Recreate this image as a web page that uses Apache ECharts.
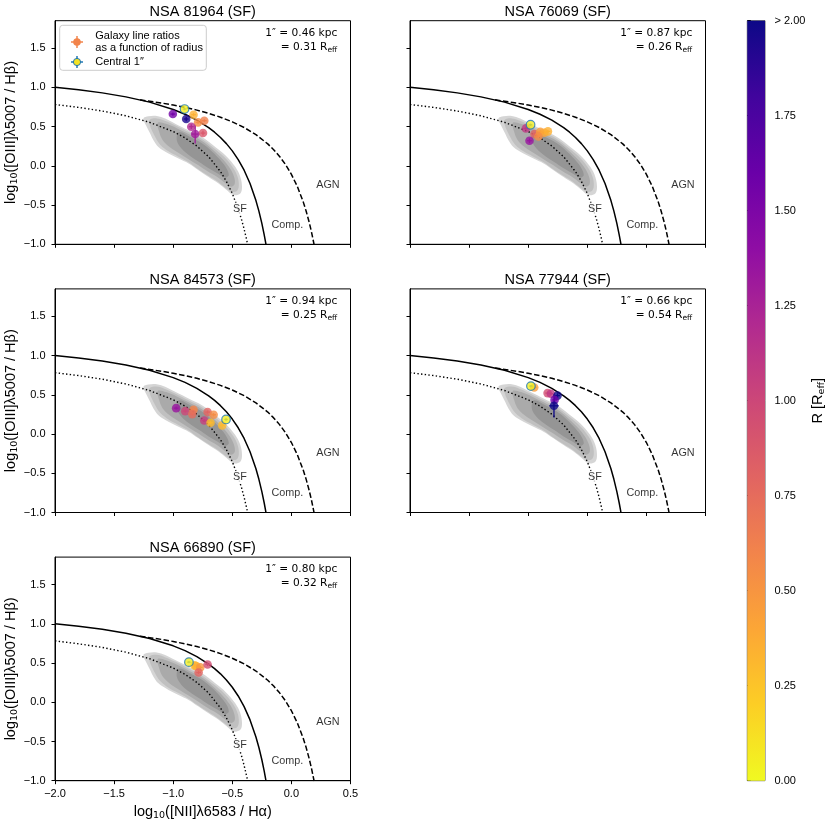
<!DOCTYPE html>
<html>
<head>
<meta charset="utf-8">
<script src="https://cdn.jsdelivr.net/npm/echarts@6.0.0/dist/echarts.min.js"></script>
<style>
  html, body { margin: 0; padding: 0; background: #fff; }
  #main { width: 830px; height: 824px; }
</style>
</head>
<body>
<div id="main"></div>
<script>
// ---- data ----
const titles = ['NSA 81964 (SF)', 'NSA 76069 (SF)', 'NSA 84573 (SF)', 'NSA 77944 (SF)', 'NSA 66890 (SF)'];
const kpcPerArcsec = ['0.46', '0.87', '0.94', '0.66', '0.80'];
const reffPerArcsec = ['0.31', '0.26', '0.25', '0.54', '0.32'];

// [log NII/Ha, log OIII/Hb, R / Reff, x error, y error]
const nsa81964 = [
  [-1.003, 0.660, 1.55, 0.02, 0.02],
  [-0.828, 0.652, 0.35, 0.02, 0.02],
  [-0.890, 0.597, 1.95, 0.02, 0.03],
  [-0.790, 0.554, 0.55, 0.02, 0.02],
  [-0.737, 0.575, 0.62, 0.02, 0.02],
  [-0.847, 0.499, 1.20, 0.02, 0.03],
  [-0.748, 0.418, 0.88, 0.02, 0.03],
  [-0.814, 0.405, 1.30, 0.03, 0.12]
];
const nsa76069 = [
  [-1.020, 0.477, 1.10, 0.02, 0.02],
  [-0.947, 0.405, 0.80, 0.02, 0.02],
  [-0.898, 0.435, 0.45, 0.02, 0.02],
  [-0.864, 0.422, 0.40, 0.02, 0.02],
  [-0.833, 0.439, 0.35, 0.02, 0.02],
  [-0.913, 0.375, 0.55, 0.02, 0.02],
  [-0.989, 0.320, 1.35, 0.02, 0.03]
];
const nsa84573 = [
  [-0.975, 0.330, 1.35, 0.02, 0.02],
  [-0.898, 0.292, 1.00, 0.02, 0.02],
  [-0.828, 0.310, 0.60, 0.02, 0.02],
  [-0.839, 0.254, 0.75, 0.02, 0.02],
  [-0.709, 0.280, 0.80, 0.02, 0.02],
  [-0.658, 0.246, 0.55, 0.02, 0.02],
  [-0.737, 0.173, 1.05, 0.02, 0.02],
  [-0.684, 0.144, 0.30, 0.02, 0.02],
  [-0.585, 0.110, 0.30, 0.02, 0.02]
];
const nsa77944 = [
  [-0.949, 0.594, 0.45, 0.02, 0.02],
  [-0.836, 0.522, 0.95, 0.02, 0.02],
  [-0.808, 0.514, 1.10, 0.02, 0.02],
  [-0.752, 0.490, 2.00, 0.02, 0.03],
  [-0.777, 0.435, 1.60, 0.02, 0.03],
  [-0.782, 0.360, 2.00, 0.04, 0.15]
];
const nsa66890 = [
  [-0.820, 0.470, 0.30, 0.02, 0.02],
  [-0.805, 0.460, 0.35, 0.02, 0.02],
  [-0.771, 0.444, 0.50, 0.02, 0.02],
  [-0.785, 0.380, 0.80, 0.02, 0.02],
  [-0.709, 0.482, 0.95, 0.02, 0.02]
];
// central 1" aperture, one per panel
const central1 = [
  [-0.904, 0.724, 0.05, 0.015, 0.015],
  [-0.980, 0.524, 0.05, 0.015, 0.015],
  [-0.553, 0.186, 0.05, 0.015, 0.015],
  [-0.977, 0.611, 0.05, 0.015, 0.015],
  [-0.867, 0.511, 0.05, 0.015, 0.015]
];

// demarcation lines
const kauffmannLine = [[-2.0, 1.002], [-1.8, 0.970], [-1.6, 0.930], [-1.4, 0.879], [-1.2, 0.812], [-1.0, 0.719],
  [-0.9, 0.658], [-0.8, 0.582], [-0.7, 0.487], [-0.65, 0.429], [-0.6, 0.362], [-0.55, 0.283], [-0.5, 0.191],
  [-0.45, 0.080], [-0.4, -0.056], [-0.35, -0.225], [-0.3, -0.443], [-0.275, -0.577], [-0.25, -0.733],
  [-0.23, -0.879], [-0.215, -1.002]];
const kewleyLine = [[-1.28, 0.841], [-1.1, 0.801], [-1.0, 0.775], [-0.9, 0.745], [-0.8, 0.710], [-0.7, 0.669],
  [-0.6, 0.620], [-0.5, 0.561], [-0.4, 0.489], [-0.3, 0.398], [-0.2, 0.280], [-0.15, 0.206], [-0.1, 0.120],
  [-0.05, 0.017], [0.0, -0.108], [0.05, -0.262], [0.1, -0.459], [0.125, -0.578], [0.15, -0.716],
  [0.17, -0.843], [0.192, -1.004]];
const sfLine = [[-2.0, 0.782], [-1.8, 0.745], [-1.6, 0.699], [-1.4, 0.638], [-1.2, 0.555], [-1.0, 0.437],
  [-0.9, 0.356], [-0.8, 0.253], [-0.7, 0.116], [-0.6, -0.073], [-0.55, -0.198], [-0.5, -0.352],
  [-0.45, -0.549], [-0.42, -0.694], [-0.4, -0.806], [-0.38, -0.933], [-0.37, -1.003]];

const regionNames = ['SF', 'Comp.', 'AGN'];
const regionX = [-0.435, -0.034, 0.309];
const regionY = [-0.551, -0.755, -0.246];

// SDSS density contours, outer to inner
const sdssLevel1 = [[-1.252, 0.602], [-1.209, 0.631], [-1.138, 0.635], [-1.068, 0.602], [-0.983, 0.538],
  [-0.870, 0.453], [-0.757, 0.368], [-0.644, 0.241], [-0.559, 0.135], [-0.475, -0.013], [-0.432, -0.141],
  [-0.418, -0.268], [-0.432, -0.352], [-0.489, -0.373], [-0.545, -0.310], [-0.616, -0.224], [-0.701, -0.141],
  [-0.786, -0.055], [-0.870, 0.030], [-0.955, 0.093], [-1.040, 0.157], [-1.125, 0.241], [-1.167, 0.326],
  [-1.195, 0.411], [-1.223, 0.495]];
const sdssLevel2 = [[-1.20, 0.585], [-1.14, 0.605], [-1.07, 0.575], [-0.98, 0.515], [-0.87, 0.430],
  [-0.76, 0.345], [-0.655, 0.225], [-0.57, 0.115], [-0.495, -0.020], [-0.455, -0.140], [-0.445, -0.260],
  [-0.465, -0.325], [-0.51, -0.325], [-0.57, -0.265], [-0.64, -0.185], [-0.72, -0.110], [-0.80, -0.030],
  [-0.88, 0.055], [-0.96, 0.120], [-1.04, 0.185], [-1.11, 0.270], [-1.15, 0.360], [-1.18, 0.450], [-1.20, 0.530]];
const sdssLevel3 = [[-1.13, 0.550], [-1.06, 0.535], [-0.97, 0.480], [-0.87, 0.405], [-0.76, 0.320],
  [-0.665, 0.205], [-0.585, 0.090], [-0.52, -0.030], [-0.485, -0.140], [-0.48, -0.230], [-0.51, -0.265],
  [-0.56, -0.220], [-0.63, -0.140], [-0.71, -0.070], [-0.79, 0.010], [-0.87, 0.085], [-0.95, 0.160],
  [-1.03, 0.240], [-1.09, 0.330], [-1.12, 0.440]];
const sdssLevel4 = [[-0.95, 0.430], [-0.86, 0.370], [-0.76, 0.290], [-0.67, 0.180], [-0.60, 0.070],
  [-0.55, -0.030], [-0.53, -0.120], [-0.56, -0.150], [-0.62, -0.100], [-0.70, -0.030], [-0.78, 0.050],
  [-0.86, 0.130], [-0.93, 0.220], [-0.97, 0.330]];

const xTicks = [-2, -1.5, -1, -0.5, 0, 0.5];
const yTicks = [-1, -0.5, 0, 0.5, 1, 1.5];
const cbarTicks = [0, 0.25, 0.5, 0.75, 1, 1.25, 1.5, 1.75, 2];

// ---- look ----
const FONT = 'Liberation Sans';
const MATH = 'DejaVu Sans';
const plasmaR = ['#f0f921', '#fcce25', '#fca636', '#f2844b', '#e16462', '#cc4778',
  '#b12a90', '#8f0da4', '#6a00a8', '#41049d', '#0d0887'];
const contourColors = ['#d5d5d5', '#c0c0c0', '#aaaaaa', '#959595'];
const sdssLevels = [sdssLevel1, sdssLevel2, sdssLevel3, sdssLevel4];
const panelData = [nsa81964, nsa76069, nsa84573, nsa77944, nsa66890];

const colLeft = [55, 410];
const rowTop = [20.7, 288.9, 557.1];
const panelW = 295.5, panelH = 223.6;
const panelPos = [[0, 0], [0, 1], [1, 0], [1, 1], [2, 0]];

const subRich = {
  sub: { fontSize: 9.5, fontFamily: MATH, color: '#000', verticalAlign: 'bottom', lineHeight: 10 }
};

function fmt1(v) {
  return (v < 0 ? '\u2212' : '') + Math.abs(v).toFixed(1);
}

function renderContour(params, api) {
  const lvl = api.value(0);
  const pts = sdssLevels[lvl].map(function (p) { return api.coord(p); });
  return {
    type: 'polygon',
    shape: { points: pts, smooth: 0.35 },
    style: { fill: contourColors[lvl] }
  };
}

function errorBars(color) {
  return function (params, api) {
    const x = api.value(0), y = api.value(1), xe = api.value(3), ye = api.value(4);
    const c = api.coord([x, y]);
    const l = api.coord([x - xe, y]), r = api.coord([x + xe, y]);
    const t = api.coord([x, y + ye]), b = api.coord([x, y - ye]);
    const style = { stroke: color || api.visual('color'), lineWidth: 1.3 };
    return {
      type: 'group',
      children: [
        { type: 'line', shape: { x1: l[0], y1: c[1], x2: r[0], y2: c[1] }, style: style },
        { type: 'line', shape: { x1: c[0], y1: t[1], x2: c[0], y2: b[1] }, style: style }
      ]
    };
  };
}

const grids = [], xAxes = [], yAxes = [], series = [], graphics = [], mappedSeries = [];

panelPos.forEach(function (rc, i) {
  const left = colLeft[rc[1]], top = rowTop[rc[0]];
  grids.push({
    left: left, top: top, width: panelW, height: panelH,
    show: true, borderColor: '#000', borderWidth: 1, outerBoundsMode: 'none'
  });
  const bottomPanel = i === 4;
  xAxes.push({
    gridIndex: i, type: 'value', min: -2, max: 0.5, interval: 0.5,
    axisLine: { show: true, onZero: false, lineStyle: { color: '#000', width: 1 } },
    axisTick: { show: true, inside: false, length: 3.5, lineStyle: { color: '#000' }, customValues: xTicks },
    axisLabel: {
      show: bottomPanel, customValues: xTicks, formatter: fmt1, margin: 8,
      fontSize: 11, fontFamily: FONT, color: '#000'
    },
    splitLine: { show: false },
    name: bottomPanel ? 'log{sub|10}([NII]\u03bb6583 / H\u03b1)' : '',
    nameLocation: 'middle', nameGap: 23,
    nameTextStyle: { fontSize: 14.5, fontFamily: FONT, color: '#000', lineHeight: 17, rich: subRich }
  });
  const leftCol = rc[1] === 0;
  yAxes.push({
    gridIndex: i, type: 'value', min: -1, max: 1.85, interval: 0.5,
    axisLine: { show: true, onZero: false, lineStyle: { color: '#000', width: 1 } },
    axisTick: { show: true, inside: false, length: 3.5, lineStyle: { color: '#000' }, customValues: yTicks },
    axisLabel: {
      show: leftCol, customValues: yTicks, formatter: fmt1, margin: 9.5,
      fontSize: 11, fontFamily: FONT, color: '#000'
    },
    splitLine: { show: false },
    name: leftCol ? 'log{sub|10}([OIII]\u03bb5007 / H\u03b2)' : '',
    nameLocation: 'middle', nameRotate: 90, nameGap: 32,
    nameTextStyle: { fontSize: 14.5, fontFamily: FONT, color: '#000', lineHeight: 17, rich: subRich }
  });

  const ax = { xAxisIndex: i, yAxisIndex: i };
  series.push(Object.assign({
    type: 'custom', silent: true, z: 1,
    data: [[0], [1], [2], [3]], renderItem: renderContour
  }, ax));
  series.push(Object.assign({
    type: 'line', data: kauffmannLine, symbol: 'none', silent: true, z: 3,
    lineStyle: { color: '#000', width: 1.5 }
  }, ax));
  series.push(Object.assign({
    type: 'line', data: kewleyLine, symbol: 'none', silent: true, z: 3,
    lineStyle: { color: '#000', width: 1.5, type: [5.5, 2.4] }
  }, ax));
  series.push(Object.assign({
    type: 'line', data: sfLine, symbol: 'none', silent: true, z: 3,
    lineStyle: { color: '#000', width: 1.4, type: [1.4, 2.3] }
  }, ax));
  series.push(Object.assign({
    type: 'scatter', silent: true, z: 4, symbolSize: 1,
    itemStyle: { color: 'transparent' },
    data: regionNames.map(function (n, k) {
      return {
        value: [regionX[k], regionY[k]],
        label: {
          show: true, position: 'inside', formatter: n, fontSize: 10.8, fontFamily: FONT, color: '#000',
          backgroundColor: k === 0 ? '#fff' : 'transparent', padding: [1, 1]
        }
      };
    })
  }, ax));
  mappedSeries.push(series.length);
  series.push(Object.assign({
    type: 'custom', silent: true, z: 5, data: panelData[i], renderItem: errorBars(null)
  }, ax));
  mappedSeries.push(series.length);
  series.push(Object.assign({
    type: 'scatter', silent: true, z: 6, symbolSize: 8.6, data: panelData[i]
  }, ax));
  series.push(Object.assign({
    type: 'custom', silent: true, z: 7, data: [central1[i]], renderItem: errorBars('#1f77b4')
  }, ax));
  mappedSeries.push(series.length);
  series.push(Object.assign({
    type: 'scatter', silent: true, z: 8, symbolSize: 8.6, data: [central1[i]],
    itemStyle: { borderColor: '#1f77b4', borderWidth: 1.2 }
  }, ax));

  // title and angular scale
  graphics.push({
    type: 'text', z: 100, x: left + panelW / 2, y: top - 9,
    style: { text: titles[i], font: '14.5px "' + FONT + '"', fill: '#000', align: 'center', verticalAlign: 'middle' }
  });
  graphics.push({
    type: 'text', z: 100, x: left + panelW - 13.3, y: top + 12.4,
    style: { text: '1\u2033 = ' + kpcPerArcsec[i] + ' kpc', font: '10.6px "' + MATH + '"', fill: '#000',
      align: 'right', verticalAlign: 'middle' }
  });
  graphics.push({
    type: 'text', z: 100, x: left + panelW - 13.3, y: top + 26.5,
    style: { text: '= ' + reffPerArcsec[i] + ' R{sub|eff}', font: '10.6px "' + MATH + '"', fill: '#000',
      align: 'right', verticalAlign: 'middle', lineHeight: 13,
      rich: { sub: { fontSize: 7.5, fontFamily: MATH, fill: '#000', verticalAlign: 'bottom', lineHeight: 8 } } }
  });
});

// colour bar
grids.push({ left: 747.3, top: 20.7, width: 17.7, height: 760, show: true, borderColor: '#333', borderWidth: 0.8, outerBoundsMode: 'none' });
xAxes.push({ gridIndex: 5, type: 'value', min: 0, max: 1, show: false });
yAxes.push({
  gridIndex: 5, type: 'value', position: 'right', min: 0, max: 2, interval: 0.25,
  axisLine: { show: false },
  axisTick: { show: true, inside: false, length: 3.5, lineStyle: { color: '#000' }, customValues: cbarTicks },
  axisLabel: {
    customValues: cbarTicks, margin: 9.5, fontSize: 11, fontFamily: FONT, color: '#000',
    formatter: function (v) { return v >= 2 ? '> 2.00' : v.toFixed(2); }
  },
  splitLine: { show: false },
  name: 'R [R{sub|eff}]', nameLocation: 'middle', nameRotate: 90, nameGap: 40,
  nameTextStyle: { fontSize: 14.5, fontFamily: FONT, color: '#000', lineHeight: 17, rich: subRich }
});
series.push({
  type: 'custom', xAxisIndex: 5, yAxisIndex: 5, silent: true, data: [[0, 0]],
  renderItem: function (params, api) {
    const p0 = api.coord([0, 2]), p1 = api.coord([1, 0]);
    return {
      type: 'rect',
      shape: { x: p0[0], y: p0[1], width: p1[0] - p0[0], height: p1[1] - p0[1] },
      style: {
        fill: new echarts.graphic.LinearGradient(0, 1, 0, 0, plasmaR.map(function (c, k) {
          return { offset: k / (plasmaR.length - 1), color: c };
        }))
      }
    };
  }
});

// legend box in the first panel
const lgX = 59.7, lgY = 25.3;
const lgFont = '11px "' + FONT + '"';
graphics.push({
  type: 'group', z: 100, children: [
    { type: 'rect', shape: { x: lgX, y: lgY, width: 146.6, height: 45, r: 3 },
      style: { fill: 'rgba(255,255,255,0.85)', stroke: '#cccccc', lineWidth: 1 } },
    { type: 'line', shape: { x1: lgX + 11.3, y1: lgY + 16.7, x2: lgX + 23.3, y2: lgY + 16.7 }, style: { stroke: '#f2844b', lineWidth: 1.5 } },
    { type: 'line', shape: { x1: lgX + 17.3, y1: lgY + 10.7, x2: lgX + 17.3, y2: lgY + 22.7 }, style: { stroke: '#f2844b', lineWidth: 1.5 } },
    { type: 'circle', shape: { cx: lgX + 17.3, cy: lgY + 16.7, r: 3.8 }, style: { fill: '#f2844b' } },
    { type: 'line', shape: { x1: lgX + 11.3, y1: lgY + 36.7, x2: lgX + 23.3, y2: lgY + 36.7 }, style: { stroke: '#1f77b4', lineWidth: 1.5 } },
    { type: 'line', shape: { x1: lgX + 17.3, y1: lgY + 30.7, x2: lgX + 17.3, y2: lgY + 42.7 }, style: { stroke: '#1f77b4', lineWidth: 1.5 } },
    { type: 'circle', shape: { cx: lgX + 17.3, cy: lgY + 36.7, r: 3.6 }, style: { fill: '#f4e225', stroke: '#1f77b4', lineWidth: 1 } },
    { type: 'text', x: lgX + 35.6, y: lgY + 10.6, style: { text: 'Galaxy line ratios', font: lgFont, fill: '#000', verticalAlign: 'middle' } },
    { type: 'text', x: lgX + 35.6, y: lgY + 22.4, style: { text: 'as a function of radius', font: lgFont, fill: '#000', verticalAlign: 'middle' } },
    { type: 'text', x: lgX + 35.6, y: lgY + 36.9, style: { text: 'Central 1\u2033', font: lgFont, fill: '#000', verticalAlign: 'middle' } }
  ]
});

const chart = echarts.init(document.getElementById('main'));
chart.setOption({
  animation: false,
  backgroundColor: '#fff',
  grid: grids,
  xAxis: xAxes,
  yAxis: yAxes,
  visualMap: {
    type: 'continuous', show: false, min: 0, max: 2, dimension: 2,
    seriesIndex: mappedSeries, inRange: { color: plasmaR }
  },
  graphic: graphics,
  series: series
});
</script>
</body>
</html>
